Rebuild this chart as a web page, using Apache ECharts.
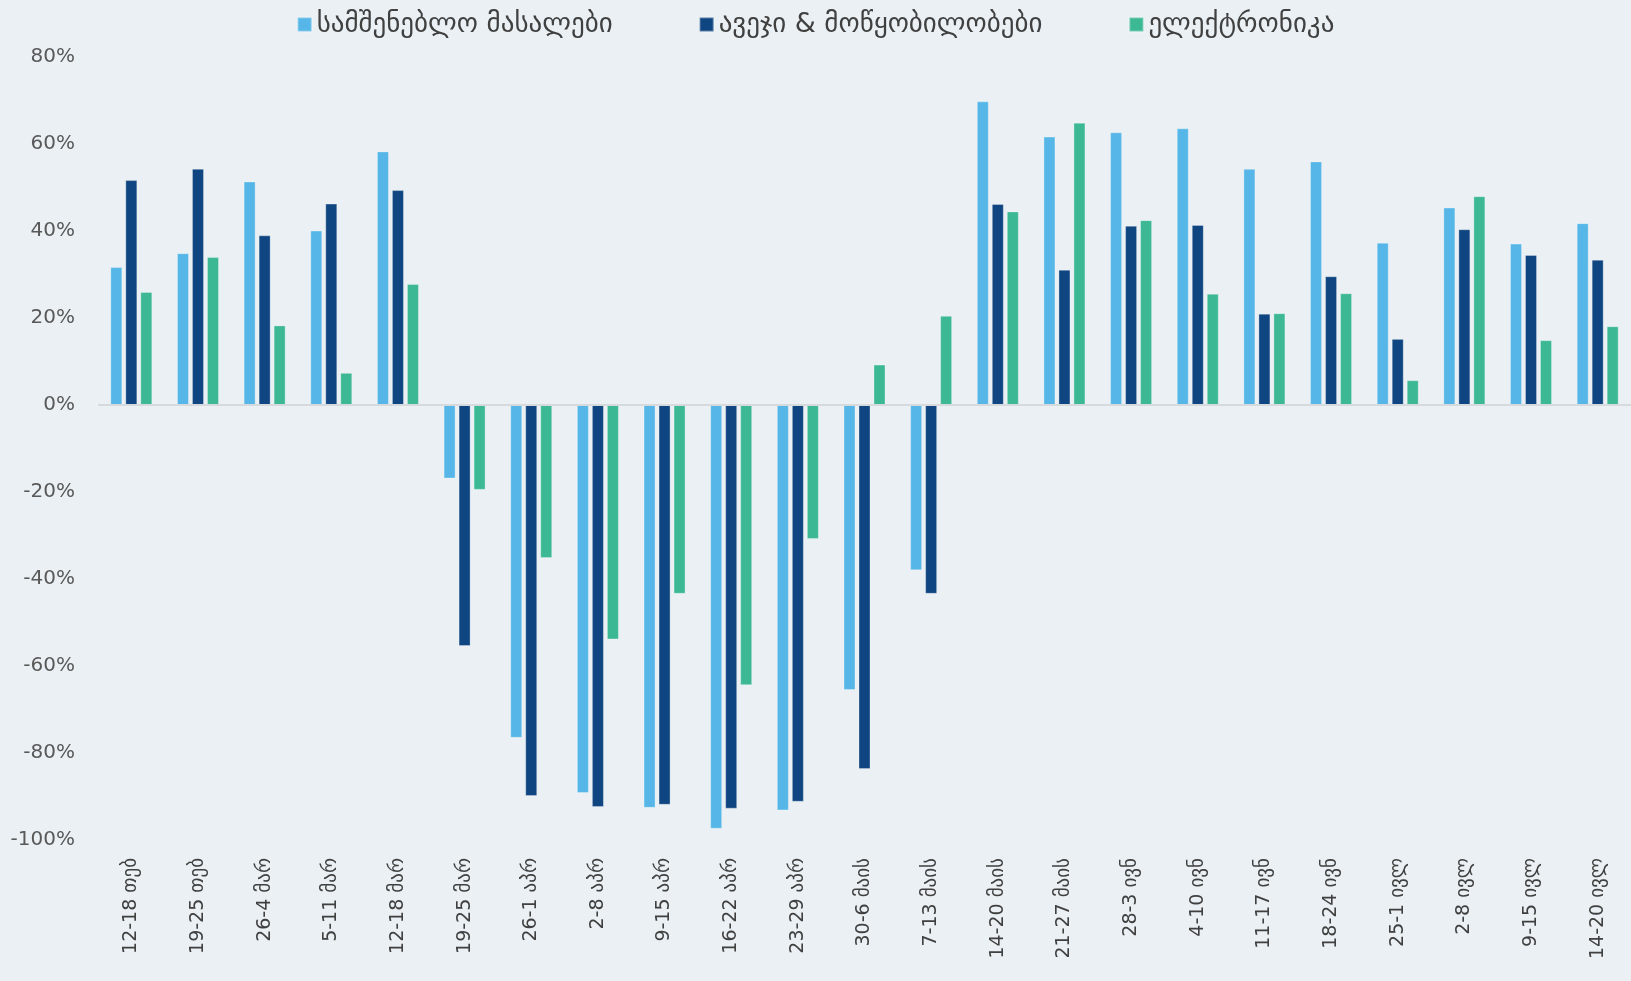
<!DOCTYPE html>
<html>
<head>
<meta charset="utf-8">
<title>chart</title>
<script src="https://cdn.jsdelivr.net/npm/echarts@6/dist/echarts.min.js"></script>
<style>
    html, body {
        margin: 0;
        padding: 0;
        background: #eaf0f3;
    }
    #barChart {
        width: 1631px;
        height: 981px;
    }
</style>
</head>
<body>
<div id="barChart"></div>
<script>
// 周 (x 轴)
var weeks = ['12-18 თებ', '19-25 თებ', '26-4 მარ', '5-11 მარ', '12-18 მარ', '19-25 მარ',
    '26-1 აპრ', '2-8 აპრ', '9-15 აპრ', '16-22 აპრ', '23-29 აპრ', '30-6 მაის', '7-13 მაის',
    '14-20 მაის', '21-27 მაის', '28-3 ივნ', '4-10 ივნ', '11-17 ივნ', '18-24 ივნ',
    '25-1 ივლ', '2-8 ივლ', '9-15 ივლ', '14-20 ივლ']

var seriesNames = ['სამშენებლო მასალები', 'ავეჯი & მოწყობილობები', 'ელექტრონიკა']

var building = [31.7, 34.9, 51.4, 40.1, 58.3, -16.9, -76.5, -89.2, -92.6, -97.4, -93.2, -65.5, -38.0,
    69.8, 61.7, 62.7, 63.6, 54.3, 56.0, 37.3, 45.4, 37.1, 41.8]
var furniture = [51.7, 54.3, 39.0, 46.3, 49.4, -55.4, -89.9, -92.4, -91.9, -92.8, -91.2, -83.7, -43.4,
    46.2, 31.1, 41.2, 41.4, 21.0, 29.6, 15.2, 40.4, 34.5, 33.4]
var electronics = [26.0, 34.0, 18.3, 7.4, 27.8, -19.5, -35.2, -53.9, -43.4, -64.4, -30.8, 9.3, 20.5,
    44.5, 64.9, 42.5, 25.6, 21.1, 25.7, 5.7, 48.0, 14.9, 18.1]

var yTicks = { min: -100, max: 80, step: 20 }

var colors = ['#56b6e7', '#0f4581', '#3db894']
var fontFamily = '"DejaVu Sans", sans-serif'

function makeBar (name, data, color, withZero) {
    var s = {
        name: name,
        type: 'bar',
        data: data,
        barWidth: 12,
        barGap: '25%',
        itemStyle: {
            color: color,
            borderColor: 'rgba(255,255,255,0.3)',
            borderWidth: 1
        }
    }
    if (withZero) {
        // 0 线
        s.markLine = {
            silent: true,
            symbol: 'none',
            label: { show: false },
            lineStyle: { color: '#d6dadd', width: 2, type: 'solid' },
            data: [{ yAxis: 0 }]
        }
    }
    return s
}

var chart = echarts.init(document.getElementById('barChart'))
var option = {
    backgroundColor: '#eaf0f3',
    color: colors,
    animation: false,
    textStyle: { fontFamily: fontFamily },
    legend: {
        top: 6,
        left: 'center',
        itemWidth: 14,
        itemHeight: 14,
        itemGap: 86,
        icon: 'rect',
        textStyle: { fontSize: 27, color: '#404040', fontFamily: fontFamily },
        data: seriesNames
    },
    grid: {
        left: 98,
        right: 0,
        top: 57,
        bottom: 141
    },
    xAxis: {
        type: 'category',
        data: weeks,
        axisLine: { show: false, onZero: false },
        axisTick: { show: false },
        axisLabel: {
            rotate: 90,
            margin: 18,
            fontSize: 19,
            color: '#404040',
            interval: 0
        }
    },
    yAxis: {
        type: 'value',
        min: yTicks.min,
        max: yTicks.max,
        interval: yTicks.step,
        splitLine: { show: false },
        axisLine: { show: false },
        axisTick: { show: false },
        axisLabel: {
            formatter: '{value}%',
            fontSize: 20,
            color: '#595959',
            margin: 23
        }
    },
    series: [
        makeBar(seriesNames[0], building, colors[0], true),
        makeBar(seriesNames[1], furniture, colors[1], false),
        makeBar(seriesNames[2], electronics, colors[2], false)
    ]
}
chart.setOption(option)
</script>
</body>
</html>
